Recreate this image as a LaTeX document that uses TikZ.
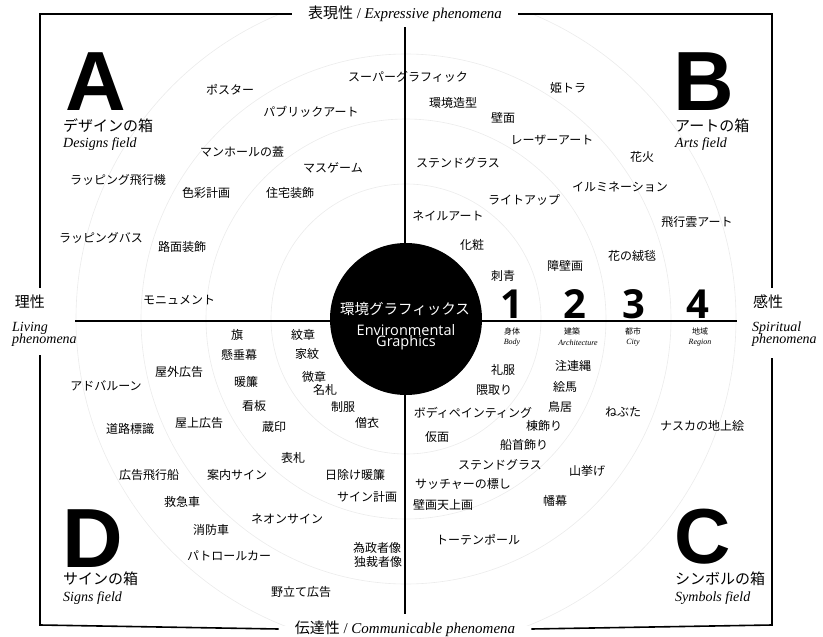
\documentclass[tikz,border=0pt]{standalone}
\usepackage{fontspec}
\setmainfont{Liberation Serif}
\newfontfamily\jp{Noto Sans CJK JP}
\newfontfamily\osans{Open Sans}
\newfontfamily\hsans{Liberation Sans}
\tikzset{
  frame/.style={line width=1.6pt, black},
  axis/.style={line width=1.5pt, black},
  faint/.style={line width=0.6pt, black!8},
  lbl/.style={font=\jp\fontsize{12}{14}\selectfont, inner sep=0pt},
  boxjp/.style={font=\jp\fontsize{15}{17}\selectfont, inner sep=0pt, anchor=west},
  boxen/.style={font=\fontsize{14}{16}\selectfont\itshape, inner sep=0pt, anchor=west},
  bigletter/.style={font=\hsans\bfseries\fontsize{84}{84}\selectfont, inner sep=0pt, anchor=base west},
  num/.style={font=\osans\bfseries\fontsize{40}{40}\selectfont, inner sep=0pt, anchor=base},
  numjp/.style={font=\jp\fontsize{8}{9}\selectfont, inner sep=0pt},
  numen/.style={font=\fontsize{8}{9}\selectfont\itshape, inner sep=0pt},
  axlbl/.style={inner sep=0pt, inner xsep=16pt, font=\fontsize{15}{17}\selectfont},
  sidejp/.style={font=\jp\fontsize{15}{17}\selectfont, inner sep=0pt},
  sideen/.style={font=\fontsize{14}{15}\selectfont\itshape, inner sep=0pt, align=left, anchor=west},
}
\begin{document}
\begin{tikzpicture}[x=1pt,y=-1pt]
\useasboundingbox (0,0) rectangle (823,637);
% frame corners
\coordinate (TL) at (40,14);
\coordinate (TR) at (772,14);
\coordinate (BL) at (40,625);
\coordinate (BR) at (772,625);
\coordinate (L1) at (40,288);
\coordinate (L2) at (40,355);
\coordinate (R1) at (772,288);
\coordinate (R2) at (772,358);
\coordinate (C) at (406,319);
% faint rings
\begin{scope}
  \clip (TL) rectangle (BR);
  \foreach \r in {135,200,265,330} \draw[faint] (C) circle[radius=\r pt];
\end{scope}
% axis labels
\node[axlbl] (tlab) at (405,14) {{\jp 表現性} / \textit{Expressive phenomena}};
\node[axlbl] (blab) at (405,629) {{\jp 伝達性} / \textit{Communicable phenomena}};
\node[sidejp] (lsj) at (30,302) {理性};
\node[sideen] (lse) at (12,334) {Living\\[-3pt]phenomena};
\node[sidejp] (rsj) at (768,302) {感性};
\node[sideen] (rse) at (752,334) {Spiritual\\[-3pt]phenomena};
% frame
\draw[frame] (tlab.west) -- (TL) -- (L1);
\draw[frame] (L2) -- (BL) -- (blab.west);
\draw[frame] (tlab.east) -- (TR) -- (R1);
\draw[frame] (R2) -- (BR) -- (blab.east);
% axes
\coordinate (AT) at (405,27);
\coordinate (AB) at (405,614);
\coordinate (AL) at (75,321);
\coordinate (AR) at (737,321);
\draw[axis] (AT) -- (AB);
\draw[axis] (AL) -- (AR);
% core circle
\node[circle, fill=black, minimum size=152, inner sep=0pt] (core) at (C) {};
\node[font=\jp\fontsize{14.5}{16}\selectfont, text=white, inner sep=0pt] (corejp) at (405,309) {環境グラフィックス};
\node[font=\osans\fontsize{14.5}{14}\selectfont, text=white, inner sep=0pt, align=center] (coreen) at (406,337) {Environmental\\[-3pt]Graphics};
% quadrant letters
\node[bigletter] (A) at (65,110) {A};
\node[bigletter] (B) at (673,110) {B};
\node[bigletter, font=\hsans\bfseries\fontsize{78}{78}\selectfont] (Cl) at (674,563) {C};
\node[bigletter] (D) at (62,567) {D};
\node[boxjp] (Aj) at (63,126) {デザインの箱};
\node[boxen] (Ae) at (63,144) {Designs field};
\node[boxjp] (Bj) at (675,126) {アートの箱};
\node[boxen] (Be) at (675,144) {Arts field};
\node[boxjp] (Dj) at (63,579) {サインの箱};
\node[boxen] (De) at (63,598) {Signs field};
\node[boxjp] (Cj) at (675,579) {シンボルの箱};
\node[boxen] (Ce) at (675,598) {Symbols field};
% scale numbers
\node[num] (n1) at (512,318) {1};
\node[num] (n2) at (575,318) {2};
\node[num] (n3) at (634,318) {3};
\node[num] (n4) at (698,318) {4};
\node[numjp] (n1j) at (512,331) {身体};
\node[numen] (n1e) at (512,343) {Body};
\node[numjp] (n2j) at (572,331) {建築};
\node[numen] (n2e) at (578,343) {Architecture};
\node[numjp] (n3j) at (633,331) {都市};
\node[numen] (n3e) at (633,343) {City};
\node[numjp] (n4j) at (700,331) {地域};
\node[numen] (n4e) at (700,343) {Region};
% quadrant A items
\node[lbl] (a1) at (408,77) {スーパーグラフィック};
\node[lbl] (a2) at (230,90) {ポスター};
\node[lbl] (a3) at (311,112) {パブリックアート};
\node[lbl] (a4) at (242,152) {マンホールの蓋};
\node[lbl] (a5) at (333,168) {マスゲーム};
\node[lbl] (a6) at (118,180) {ラッピング飛行機};
\node[lbl] (a7) at (206,193) {色彩計画};
\node[lbl] (a8) at (290,193) {住宅装飾};
\node[lbl] (a9) at (101,238) {ラッピングバス};
\node[lbl] (a10) at (182,247) {路面装飾};
\node[lbl] (a11) at (179,300) {モニュメント};
% quadrant B items
\node[lbl] (b1) at (568,88) {姫トラ};
\node[lbl] (b2) at (453,103) {環境造型};
\node[lbl] (b3) at (503,118) {壁面};
\node[lbl] (b4) at (552,140) {レーザーアート};
\node[lbl] (b5) at (458,163) {ステンドグラス};
\node[lbl] (b6) at (642,157) {花火};
\node[lbl] (b7) at (620,187) {イルミネーション};
\node[lbl] (b8) at (524,200) {ライトアップ};
\node[lbl] (b9) at (448,216) {ネイルアート};
\node[lbl] (b10) at (697,222) {飛行雲アート};
\node[lbl] (b11) at (472,245) {化粧};
\node[lbl] (b12) at (632,256) {花の絨毯};
\node[lbl] (b13) at (565,266) {障壁画};
\node[lbl] (b14) at (503,276) {刺青};
% quadrant D items
\node[lbl] (d1) at (237,335) {旗};
\node[lbl] (d2) at (303,335) {紋章};
\node[lbl] (d3) at (239,355) {懸垂幕};
\node[lbl] (d4) at (307,354) {家紋};
\node[lbl] (d5) at (179,372) {屋外広告};
\node[lbl] (d6) at (106,386) {アドバルーン};
\node[lbl] (d7) at (246,382) {暖簾};
\node[lbl] (d8) at (314,377) {微章};
\node[lbl] (d9) at (325,390) {名札};
\node[lbl] (d10) at (254,406) {看板};
\node[lbl] (d11) at (343,407) {制服};
\node[lbl] (d12) at (130,429) {道路標識};
\node[lbl] (d13) at (199,423) {屋上広告};
\node[lbl] (d14) at (274,427) {蔵印};
\node[lbl] (d15) at (367,423) {僧衣};
\node[lbl] (d16) at (293,458) {表札};
\node[lbl] (d17) at (149,475) {広告飛行船};
\node[lbl] (d18) at (237,475) {案内サイン};
\node[lbl] (d19) at (355,475) {日除け暖簾};
\node[lbl] (d20) at (182,502) {救急車};
\node[lbl] (d21) at (367,497) {サイン計画};
\node[lbl] (d22) at (287,519) {ネオンサイン};
\node[lbl] (d23) at (211,530) {消防車};
\node[lbl] (d24) at (377,548) {為政者像};
\node[lbl] (d25) at (378,562) {独裁者像};
\node[lbl] (d26) at (229,556) {パトロールカー};
\node[lbl] (d27) at (301,592) {野立て広告};
% quadrant C items
\node[lbl] (c1) at (503,370) {礼服};
\node[lbl] (c2) at (573,366) {注連縄};
\node[lbl] (c3) at (494,390) {隈取り};
\node[lbl] (c4) at (565,387) {絵馬};
\node[lbl] (c5) at (473,413) {ボディペインティング};
\node[lbl] (c6) at (560,407) {鳥居};
\node[lbl] (c7) at (623,412) {ねぶた};
\node[lbl] (c8) at (544,426) {棟飾り};
\node[lbl] (c9) at (702,426) {ナスカの地上絵};
\node[lbl] (c10) at (437,437) {仮面};
\node[lbl] (c11) at (524,445) {船首飾り};
\node[lbl] (c12) at (500,465) {ステンドグラス};
\node[lbl] (c13) at (587,471) {山挙げ};
\node[lbl] (c14) at (463,484) {サッチャーの標し};
\node[lbl] (c15) at (443,505) {壁画天上画};
\node[lbl] (c16) at (555,501) {幡幕};
\node[lbl] (c17) at (478,540) {トーテンポール};
\end{tikzpicture}
\end{document}
